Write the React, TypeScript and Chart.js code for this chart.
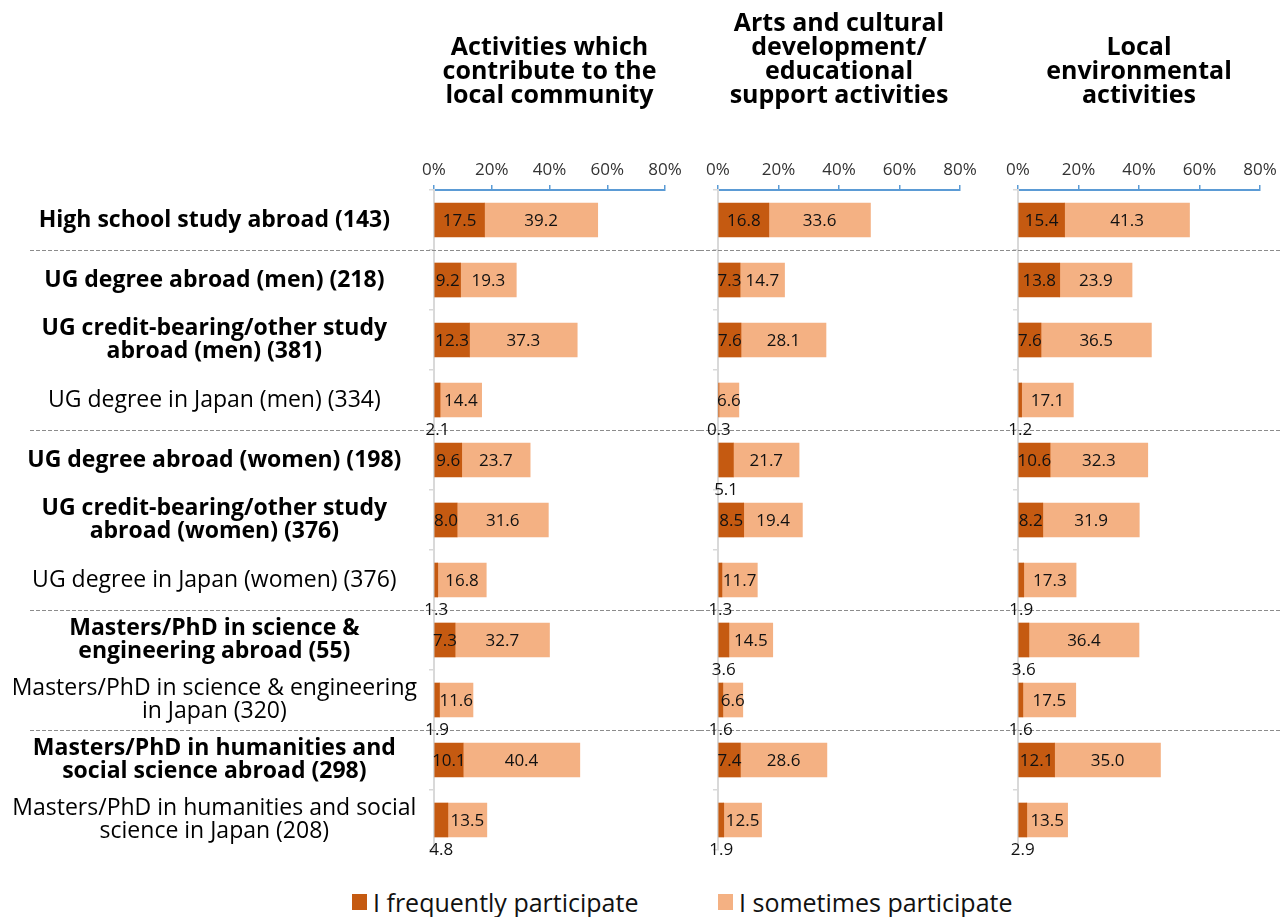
import React, { useEffect, useRef } from 'react';
import { Chart, registerables } from 'chart.js';

Chart.register(...registerables);

// ---------- data ----------
const categories: (string | string[])[] = [
  'High school study abroad (143)',
  'UG degree abroad (men) (218)',
  ['UG credit-bearing/other study', 'abroad (men) (381)'],
  'UG degree in Japan (men) (334)',
  'UG degree abroad (women) (198)',
  ['UG credit-bearing/other study', 'abroad (women) (376)'],
  'UG degree in Japan (women) (376)',
  ['Masters/PhD in science &', 'engineering abroad (55)'],
  ['Masters/PhD in science & engineering', 'in Japan (320)'],
  ['Masters/PhD in humanities and', 'social science abroad (298)'],
  ['Masters/PhD in humanities and social', 'science in Japan (208)'],
];
const boldRows = [true, true, true, false, true, true, false, true, false, true, false];
const groupBreaksAfter = [0, 3, 6, 8];

const seriesNames = ['I frequently participate', 'I sometimes participate'];

const communityFrequent = [17.5, 9.2, 12.3, 2.1, 9.6, 8.0, 1.3, 7.3, 1.9, 10.1, 4.8];
const communitySometimes = [39.2, 19.3, 37.3, 14.4, 23.7, 31.6, 16.8, 32.7, 11.6, 40.4, 13.5];

const artsFrequent = [16.8, 7.3, 7.6, 0.3, 5.1, 8.5, 1.3, 3.6, 1.6, 7.4, 1.9];
const artsSometimes = [33.6, 14.7, 28.1, 6.6, 21.7, 19.4, 11.7, 14.5, 6.6, 28.6, 12.5];

const envFrequent = [15.4, 13.8, 7.6, 1.2, 10.6, 8.2, 1.9, 3.6, 1.6, 12.1, 2.9];
const envSometimes = [41.3, 23.9, 36.5, 17.1, 32.3, 31.9, 17.3, 36.4, 17.5, 35.0, 13.5];

const axisMin = 0;
const axisMax = 80;
const axisStep = 20;

const panelTitles: string[][] = [
  ['', 'Activities which', 'contribute to the', 'local community'],
  ['Arts and cultural', 'development/', 'educational', 'support activities'],
  ['', 'Local', 'environmental', 'activities'],
];

// ---------- style ----------
const FONT = '"Open Sans", "Noto Sans", sans-serif';
const DARK = '#C55A11';
const LIGHT = '#F4B183';
const BLUE = '#5B9BD5';
const GRAY = '#D9D9D9';

const groupLinesPlugin = {
  id: 'groupLines',
  beforeDatasetsDraw(chart: any, _args: any, opts: any) {
    const y = chart.scales.y;
    const ctx = chart.ctx;
    ctx.save();
    ctx.setLineDash([4, 2]);
    ctx.strokeStyle = '#8c8c8c';
    ctx.lineWidth = 1;
    groupBreaksAfter.forEach((i) => {
      const py = Math.round((y.getPixelForValue(i) + y.getPixelForValue(i + 1)) / 2) + 0.5;
      ctx.beginPath();
      ctx.moveTo(opts.x0, py);
      ctx.lineTo(opts.x1, py);
      ctx.stroke();
    });
    ctx.restore();
  },
};

const valueLabelsPlugin = {
  id: 'valueLabels',
  afterDatasetsDraw(chart: any) {
    const ctx = chart.ctx;
    ctx.save();
    ctx.font = `17px ${FONT}`;
    ctx.fillStyle = '#111';
    ctx.textAlign = 'center';
    ctx.textBaseline = 'middle';
    chart.data.datasets.forEach((ds: any, di: number) => {
      const meta = chart.getDatasetMeta(di);
      meta.data.forEach((el: any, i: number) => {
        const v = ds.data[i] as number;
        const { x, base, y, height } = el.getProps(['x', 'base', 'y', 'height'], true);
        const cx = (x + base) / 2;
        const txt = v.toFixed(1);
        if (di === 0 && v < 6) {
          ctx.fillText(txt, cx, y + height / 2 + 13);
        } else {
          ctx.fillText(txt, cx, y + 1);
        }
      });
    });
    ctx.restore();
  },
};

interface PanelCfg {
  freq: number[];
  some: number[];
  title: string[];
  showLabels: boolean;
  yWidth: number;
  padRight: number;
  x0: number;
  x1: number;
}

function buildChart(canvas: HTMLCanvasElement, cfg: PanelCfg) {
  return new Chart(canvas, {
    type: 'bar',
    data: {
      labels: categories as any,
      datasets: [
        { label: seriesNames[0], data: cfg.freq, backgroundColor: DARK, barThickness: 34 },
        { label: seriesNames[1], data: cfg.some, backgroundColor: LIGHT, barThickness: 34 },
      ],
    },
    options: {
      indexAxis: 'y',
      animation: false,
      responsive: false,
      layout: { padding: { left: 0, right: cfg.padRight, top: 0, bottom: 30 } },
      scales: {
        x: {
          position: 'top',
          stacked: true,
          min: axisMin,
          max: axisMax,
          ticks: {
            stepSize: axisStep,
            callback: (v: any) => `${v}%`,
            font: { family: FONT, size: 17 },
            color: '#333',
            padding: 5,
            maxRotation: 0,
          },
          grid: { drawOnChartArea: false, drawTicks: true, tickLength: 5, color: BLUE, lineWidth: 1.5 },
          border: { color: BLUE, width: 2 },
          afterFit: (s: any) => {
            s.height = 82;
          },
        },
        y: {
          stacked: true,
          ticks: {
            display: cfg.showLabels,
            autoSkip: false,
            crossAlign: 'center',
            padding: 12,
            color: '#000',
            font: (c: any) => ({
              family: FONT,
              size: 23,
              weight: boldRows[c.index] ? 'bold' : 'normal',
              lineHeight: '23px',
            }),
          },
          grid: { offset: true, drawOnChartArea: false, drawTicks: true, tickLength: 5, color: GRAY, lineWidth: 1.5 },
          border: { color: GRAY, width: 2 },
          afterFit: (s: any) => {
            s.width = cfg.yWidth;
          },
        },
      },
      plugins: {
        legend: { display: false },
        tooltip: { enabled: false },
        title: {
          display: true,
          text: cfg.title,
          fullSize: false,
          color: '#000',
          font: { family: FONT, size: 25, weight: 'bold', lineHeight: '24px' },
          padding: { top: 12, bottom: 0 },
        },
        groupLines: { x0: cfg.x0, x1: cfg.x1 },
      } as any,
    } as any,
    plugins: [groupLinesPlugin, valueLabelsPlugin],
  });
}

export default function App() {
  const aRef = useRef<HTMLCanvasElement>(null);
  const bRef = useRef<HTMLCanvasElement>(null);
  const cRef = useRef<HTMLCanvasElement>(null);

  useEffect(() => {
    const charts = [
      buildChart(aRef.current!, {
        freq: communityFrequent,
        some: communitySometimes,
        title: panelTitles[0],
        showLabels: true,
        yWidth: 434,
        padRight: 35,
        x0: 30,
        x1: 700,
      }),
      buildChart(bRef.current!, {
        freq: artsFrequent,
        some: artsSometimes,
        title: panelTitles[1],
        showLabels: false,
        yWidth: 18,
        padRight: 40,
        x0: 0,
        x1: 300,
      }),
      buildChart(cRef.current!, {
        freq: envFrequent,
        some: envSometimes,
        title: panelTitles[2],
        showLabels: false,
        yWidth: 18,
        padRight: 24,
        x0: 0,
        x1: 280,
      }),
    ];
    return () => charts.forEach((c) => c.destroy());
  }, []);

  const legendItem = (color: string, text: string, left: number) => (
    <div
      style={{
        position: 'absolute',
        left,
        top: 884,
        height: 36,
        display: 'flex',
        alignItems: 'center',
        fontFamily: FONT,
        fontSize: 25,
        lineHeight: '36px',
        color: '#111',
        whiteSpace: 'nowrap',
      }}
    >
      <span style={{ display: 'inline-block', width: 15, height: 16, background: color, marginRight: 6 }} />
      <span>{text}</span>
    </div>
  );

  return (
    <div style={{ position: 'absolute', left: 0, top: 0, width: 1284, height: 917, background: '#fff', overflow: 'hidden' }}>
      <canvas ref={aRef} width={700} height={880} style={{ position: 'absolute', left: 0, top: 0 }} />
      <canvas ref={bRef} width={300} height={880} style={{ position: 'absolute', left: 700, top: 0 }} />
      <canvas ref={cRef} width={284} height={880} style={{ position: 'absolute', left: 1000, top: 0 }} />
      {legendItem(DARK, seriesNames[0], 352)}
      {legendItem(LIGHT, seriesNames[1], 718)}
    </div>
  );
}
